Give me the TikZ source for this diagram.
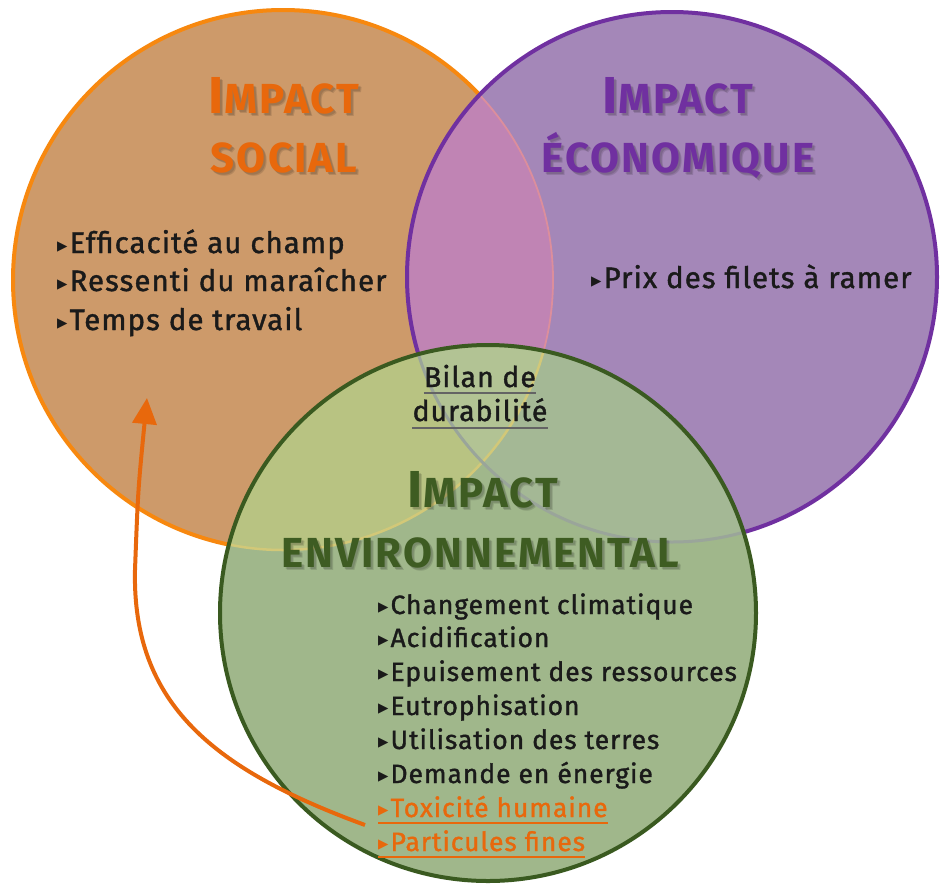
\documentclass[tikz,border=0pt]{standalone}
\usepackage{fontspec}
\usetikzlibrary{arrows.meta}
\setmainfont{Fira Sans}
\newfontfamily\bodyfont{Fira Sans}[LetterSpace=3.5, FakeBold=1.3]
\newfontfamily\ttlfont{Fira Sans}[LetterSpace=5]
\newfontfamily\symfont{DejaVu Sans}
\definecolor{sFill}{HTML}{CD9A6A}
\definecolor{eFill}{HTML}{A487B8}
\definecolor{seFill}{HTML}{C084B4}
\definecolor{gFill}{HTML}{A0B78B}
\definecolor{sgFill}{HTML}{B8C382}
\definecolor{egFill}{HTML}{A4B895}
\definecolor{segFill}{HTML}{B2C394}
\definecolor{sLine}{HTML}{F7880F}
\definecolor{eLine}{HTML}{7030A0}
\definecolor{gLine}{HTML}{3A5A20}
\definecolor{sTitle}{HTML}{E8680C}
\definecolor{eTitle}{HTML}{7030A0}
\definecolor{gTitle}{HTML}{3E5C22}
\definecolor{txt}{HTML}{1A1A1A}
\definecolor{orTxt}{HTML}{E8680C}
\definecolor{pinkEdge}{HTML}{DC8E9C}
\definecolor{yelEdge}{HTML}{D2C878}
\definecolor{grayEdge}{HTML}{9AA59A}
\definecolor{ulGray}{HTML}{646464}
\newcommand{\BigI}[1]{{\fontsize{52}{52}\selectfont #1}}
\newcommand{\SmC}[1]{{\fontsize{42}{42}\selectfont #1}}
\newcommand{\bul}{{\symfont\fontsize{13.5}{13.5}\selectfont\raisebox{2.5pt}{▶}}\hspace{2pt}}
\newcommand{\ttlnode}[5]{%
  \node[shadowttl, xshift=3pt, yshift=-3.5pt] at (#2,#3) {#5};
  \node[shadowttl, xshift=2pt, yshift=-2.5pt] at (#2,#3) {#5};
  \node[ttl, text=#4] (#1) at (#2,#3) {#5};}
\tikzset{
  ttl/.style={font=\ttlfont\bfseries, inner sep=0pt, anchor=base},
  shadowttl/.style={ttl, text=black, opacity=0.12},
  item/.style={font=\bodyfont\fontsize{29.5}{29.5}\selectfont, text=txt, inner sep=0pt, anchor=base west},
  gitem/.style={item, font=\bodyfont\fontsize{26.5}{26.5}\selectfont},
  oitem/.style={gitem, text=orTxt},
  bilan/.style={font=\bodyfont\fontsize{28.5}{28.5}\selectfont, text=txt, inner sep=0pt, anchor=base},
  edge/.style={line width=4pt},
  arr/.style={line width=4pt, draw=orTxt, -{Triangle[width=24pt,length=26pt]}}
}
\begin{document}
\begin{tikzpicture}[x=1pt,y=-1pt]
\useasboundingbox (0,0) rectangle (940,884);
\fill[white] (0,0) rectangle (940,884);
\coordinate (cS) at (283,280);
\coordinate (cE) at (672,277);
\coordinate (cG) at (488,613);
% fills social / economic
\fill[sFill] (cS) circle[radius=270pt];
\fill[eFill] (cE) circle[radius=265pt];
\begin{scope}
  \clip (cS) circle[radius=270pt];
  \fill[seFill] (cE) circle[radius=265pt];
\end{scope}
\begin{scope}
  \clip (cE) circle[radius=265pt];
  \draw[pinkEdge, line width=1.8pt] (cS) circle[radius=270pt];
\end{scope}
\begin{scope}[even odd rule]
  \clip (-10,-10) rectangle (950,900) (cE) circle[radius=265pt];
  \draw[sLine, edge] (cS) circle[radius=270pt];
\end{scope}
\draw[eLine, edge] (cE) circle[radius=265pt];
% green circle
\fill[gFill] (cG) circle[radius=268pt];
\begin{scope}
  \clip (cG) circle[radius=268pt];
  \fill[sgFill] (cS) circle[radius=270pt];
  \fill[egFill] (cE) circle[radius=265pt];
  \begin{scope}
    \clip (cS) circle[radius=270pt];
    \fill[segFill] (cE) circle[radius=265pt];
  \end{scope}
  \draw[yelEdge, line width=2.5pt] (cS) circle[radius=270pt];
  \draw[grayEdge, line width=3pt] (cE) circle[radius=265pt];
\end{scope}
\draw[gLine, edge] (cG) circle[radius=268pt];

% titles
\ttlnode{tS1}{284}{113}{sTitle}{\BigI{I}\SmC{MPACT}}
\ttlnode{tS2}{284}{172}{sTitle}{\SmC{SOCIAL}}
\ttlnode{tE1}{678}{113}{eTitle}{\BigI{I}\SmC{MPACT}}
\ttlnode{tE2}{678}{172}{eTitle}{\SmC{ÉCONOMIQUE}}
\ttlnode{tG1}{483}{507}{gTitle}{\BigI{I}\SmC{MPACT}}
\ttlnode{tG2}{480}{567}{gTitle}{\SmC{ENVIRONNEMENTAL}}

% social items
\node[item] (s1) at (57,253) {\bul Efficacité au champ};
\node[item] (s2) at (57,291) {\bul Ressenti du maraîcher};
\node[item] (s3) at (57,330) {\bul Temps de travail};
% economic item
\node[item] (e1) at (591,288) {\bul Prix des filets à ramer};
% bilan
\node[bilan] (b1) at (480,387) {Bilan de};
\node[bilan] (b2) at (480,421) {durabilité};
\draw[ulGray, line width=1.4pt] ([yshift=-6pt]b1.base west) -- ([yshift=-6pt]b1.base east);
\draw[ulGray, line width=1.4pt] ([yshift=-7pt]b2.base west) -- ([yshift=-7pt]b2.base east);
% environmental items
\node[gitem] (g1) at (378,614) {\bul Changement climatique};
\node[gitem] (g2) at (378,647) {\bul Acidification};
\node[gitem] (g3) at (378,681) {\bul Epuisement des ressources};
\node[gitem] (g4) at (378,715) {\bul Eutrophisation};
\node[gitem] (g5) at (378,749) {\bul Utilisation des terres};
\node[gitem] (g6) at (378,783) {\bul Demande en énergie};
\node[oitem] (g7) at (378,817) {\bul Toxicité humaine};
\node[oitem] (g8) at (378,851) {\bul Particules fines};
\draw[orTxt, line width=1.2pt] ([yshift=-6pt]g7.base west) -- ([yshift=-6pt]g7.base east);
\draw[orTxt, line width=1.2pt] ([yshift=-6pt]g8.base west) -- ([yshift=-6pt]g8.base east);

% arrow
\coordinate (aStart) at (365,825);
\coordinate (aMid) at (135,570);
\coordinate (aEnd) at (147,398);
\draw[arr] (aStart) .. controls (215,770) and (132,705) .. (aMid) .. controls (138,490) .. (aEnd);
\end{tikzpicture}
\end{document}
